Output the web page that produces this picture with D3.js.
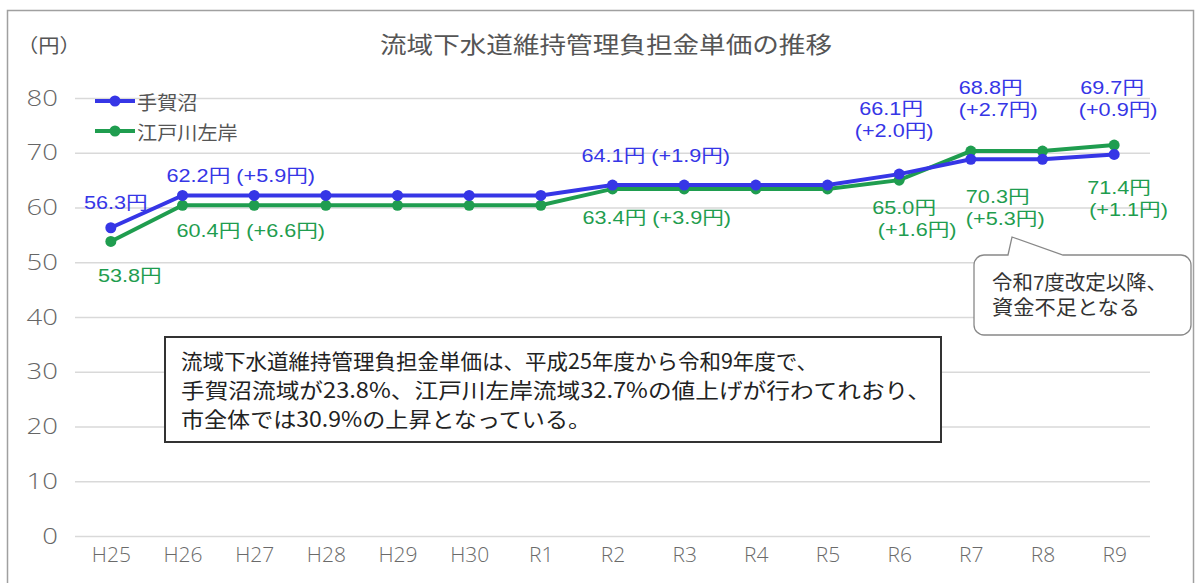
<!DOCTYPE html>
<html>
<head>
<meta charset="utf-8">
<script src="https://cdn.jsdelivr.net/npm/d3@7"></script>
<style>
  body { margin: 0; background: #fff; }
  text { font-family: "Noto Sans CJK JP", "Noto Sans", sans-serif; }
</style>
</head>
<body>
<div id="chart"></div>
<script>
// categories (fiscal years) and series values
const categories = ["H25", "H26", "H27", "H28", "H29", "H30", "R1", "R2", "R3", "R4", "R5", "R6", "R7", "R8", "R9"];
const tegaValues = [56.3, 62.2, 62.2, 62.2, 62.2, 62.2, 62.2, 64.1, 64.1, 64.1, 64.1, 66.1, 68.8, 68.8, 69.7];
const edoValues = [53.8, 60.4, 60.4, 60.4, 60.4, 60.4, 60.4, 63.4, 63.4, 63.4, 63.4, 65.0, 70.3, 70.3, 71.4];
const yTicks = [0, 10, 20, 30, 40, 50, 60, 70, 80];
const seriesNames = ["手賀沼", "江戸川左岸"];

// labelled points and the increase printed next to them
const labelIndex = [0, 1, 7, 11, 12, 14];
const tegaChanges = [null, 5.9, 1.9, 2.0, 2.7, 0.9];
const edoChanges = [null, 6.6, 3.9, 1.6, 5.3, 1.1];

const noteLines = [
  "流域下水道維持管理負担金単価は、平成25年度から令和9年度で、",
  "手賀沼流域が23.8%、江戸川左岸流域32.7%の値上げが行わてれおり、",
  "市全体では30.9%の上昇となっている。"
];
const calloutLines = ["令和7度改定以降、", "資金不足となる"];

const width = 1201, height = 583;
const blue = "#3636e6", green = "#1f9d4f";

// widen a text horizontally by factor k (the source font is wider than ours)
function stretch(sel, k) {
  sel.each(function() {
    const w = this.getComputedTextLength();
    d3.select(this).attr("textLength", w * k).attr("lengthAdjust", "spacingAndGlyphs");
  });
}

const svg = d3.select("#chart").append("svg")
    .attr("width", width)
    .attr("height", height);

// outer frame
svg.append("rect")
    .attr("x", 7.5).attr("y", 10.5)
    .attr("width", 1186).attr("height", 600)
    .attr("fill", "none").attr("stroke", "#a0a0a0").attr("stroke-width", 1.5);

const x = d3.scalePoint().domain(categories).range([75, 1150]).padding(0.5);
const y = d3.scaleLinear().domain([0, 80]).range([536, 98]);

// grid + y labels
const yAxis = svg.append("g")
    .attr("transform", "translate(75,0)")
    .call(d3.axisLeft(y).tickValues(yTicks).tickSize(-(1150 - 75)).tickPadding(17));
yAxis.select(".domain").remove();
yAxis.selectAll("line").attr("stroke", "#d9d9d9").attr("stroke-width", 1.5);
yAxis.selectAll("text").attr("fill", "#666").style("font-size", "22px")
    .style("font-family", "'Open Sans', sans-serif").style("font-weight", 300)
    .call(stretch, 1.25);

// x labels
const xAxis = svg.append("g")
    .attr("transform", "translate(0,536)")
    .call(d3.axisBottom(x).tickSize(0).tickPadding(12));
xAxis.select(".domain").remove();
xAxis.selectAll("text").attr("fill", "#6a6a6a").style("font-size", "20px")
    .style("font-family", "'Open Sans', sans-serif").style("font-weight", 300)
    .call(stretch, 1.05);

// title
svg.append("text")
    .attr("x", 606).attr("y", 43)
    .attr("text-anchor", "middle").attr("dominant-baseline", "central")
    .attr("fill", "#555").style("font-size", "23px")
    .attr("textLength", 452).attr("lengthAdjust", "spacingAndGlyphs")
    .text("流域下水道維持管理負担金単価の推移");

svg.append("text")
    .attr("x", 17).attr("y", 44)
    .attr("dominant-baseline", "central")
    .attr("fill", "#555").style("font-size", "19px")
    .text("（円）")
    .call(stretch, 1.12);

// text box
svg.append("rect")
    .attr("x", 165).attr("y", 337)
    .attr("width", 776).attr("height", 105)
    .attr("fill", "#fff").attr("stroke", "#333").attr("stroke-width", 2);
const noteWidths = [637, 750, 410];
svg.selectAll(".note").data(noteLines).enter().append("text")
    .attr("class", "note")
    .attr("x", 181)
    .attr("y", (d, i) => 360 + i * 29)
    .attr("dominant-baseline", "central")
    .attr("fill", "#222").style("font-size", "21px")
    .attr("textLength", (d, i) => noteWidths[i]).attr("lengthAdjust", "spacingAndGlyphs")
    .text(d => d);

// callout
const cx0 = 974, cx1 = 1191, cy0 = 255, cy1 = 335, r = 10;
const tip = [1012, 237], baseL = 1008, baseR = 1063;
const callPath = d3.path();
callPath.moveTo(cx0 + r, cy0);
callPath.lineTo(baseL, cy0);
callPath.lineTo(tip[0], tip[1]);
callPath.lineTo(baseR, cy0);
callPath.lineTo(cx1 - r, cy0);
callPath.arcTo(cx1, cy0, cx1, cy0 + r, r);
callPath.lineTo(cx1, cy1 - r);
callPath.arcTo(cx1, cy1, cx1 - r, cy1, r);
callPath.lineTo(cx0 + r, cy1);
callPath.arcTo(cx0, cy1, cx0, cy1 - r, r);
callPath.lineTo(cx0, cy0 + r);
callPath.arcTo(cx0, cy0, cx0 + r, cy0, r);
callPath.closePath();
svg.append("path").attr("d", callPath.toString())
    .attr("fill", "#fff").attr("stroke", "#888").attr("stroke-width", 1.3);
const callWidths = [175, 148];
svg.selectAll(".call").data(calloutLines).enter().append("text")
    .attr("class", "call")
    .attr("x", 992)
    .attr("y", (d, i) => 283 + i * 25)
    .attr("dominant-baseline", "central")
    .attr("fill", "#333").style("font-size", "20px")
    .style("font-family", "'Liberation Sans', 'Noto Sans CJK JP', sans-serif")
    .attr("textLength", (d, i) => callWidths[i]).attr("lengthAdjust", "spacingAndGlyphs")
    .text(d => d);

// series
const series = [
  {name: seriesNames[0], values: tegaValues, changes: tegaChanges, color: blue},
  {name: seriesNames[1], values: edoValues, changes: edoChanges, color: green}
];

const line = d3.line()
    .x((d, i) => x(categories[i]))
    .y(d => y(d));

// green first so blue sits on top where they run close
series.slice().reverse().forEach(s => {
  svg.append("path")
      .attr("d", line(s.values))
      .attr("fill", "none").attr("stroke", s.color).attr("stroke-width", 4);
  svg.append("g").selectAll("circle").data(s.values).enter().append("circle")
      .attr("cx", (d, i) => x(categories[i]))
      .attr("cy", d => y(d))
      .attr("r", 5.5)
      .attr("fill", s.color);
});

// label placement relative to each labelled point: [dx, dy] per line
const tegaLayout = [
  {anchor: "middle", lines: [[5, -25]]},
  {anchor: "start", lines: [[-16, -20]]},
  {anchor: "start", lines: [[-31, -30]]},
  {anchor: "middle", lines: [[-8, -66], [-5, -44]]},
  {anchor: "start", lines: [[-12, -72], [-12, -50]]},
  {anchor: "middle", lines: [[-2, -67], [4, -45]]}
];
const edoLayout = [
  {anchor: "middle", lines: [[19, 34]]},
  {anchor: "start", lines: [[-6, 25]]},
  {anchor: "start", lines: [[-30, 29]]},
  {anchor: "middle", lines: [[5, 27], [18, 49]]},
  {anchor: "start", lines: [[-5, 45], [-5, 67]]},
  {anchor: "start", lines: [[-27, 42], [-25, 64]]}
];

function drawLabels(s, layout) {
  labelIndex.forEach((idx, k) => {
    const px = x(categories[idx]), py = y(s.values[idx]);
    const val = s.values[idx].toFixed(1) + "円";
    const chg = s.changes[k] == null ? null : "(+" + s.changes[k].toFixed(1) + "円)";
    const L = layout[k];
    const texts = L.lines.length === 1 ? [chg ? val + " " + chg : val] : [val, chg];
    texts.forEach((t, j) => {
      svg.append("text")
          .attr("x", px + L.lines[j][0])
          .attr("y", py + L.lines[j][1])
          .attr("text-anchor", L.anchor)
          .attr("dominant-baseline", "central")
          .attr("fill", s.color).style("font-size", "18.5px")
          .style("font-family", "'Liberation Sans', 'Noto Sans CJK JP', sans-serif")
          .text(t)
          .call(stretch, 1.17);
    });
  });
}
drawLabels(series[0], tegaLayout);
drawLabels(series[1], edoLayout);

// legend
const legend = svg.append("g");
series.forEach((s, i) => {
  const ly = 101 + i * 30;
  legend.append("line").attr("x1", 95).attr("x2", 135).attr("y1", ly).attr("y2", ly)
      .attr("stroke", s.color).attr("stroke-width", 4);
  legend.append("circle").attr("cx", 115).attr("cy", ly).attr("r", 5.5).attr("fill", s.color);
  legend.append("text").attr("x", 137).attr("y", ly)
      .attr("dominant-baseline", "central")
      .attr("fill", "#555").style("font-size", "19px")
      .text(s.name)
      .call(stretch, 1.06);
});
</script>
</body>
</html>
